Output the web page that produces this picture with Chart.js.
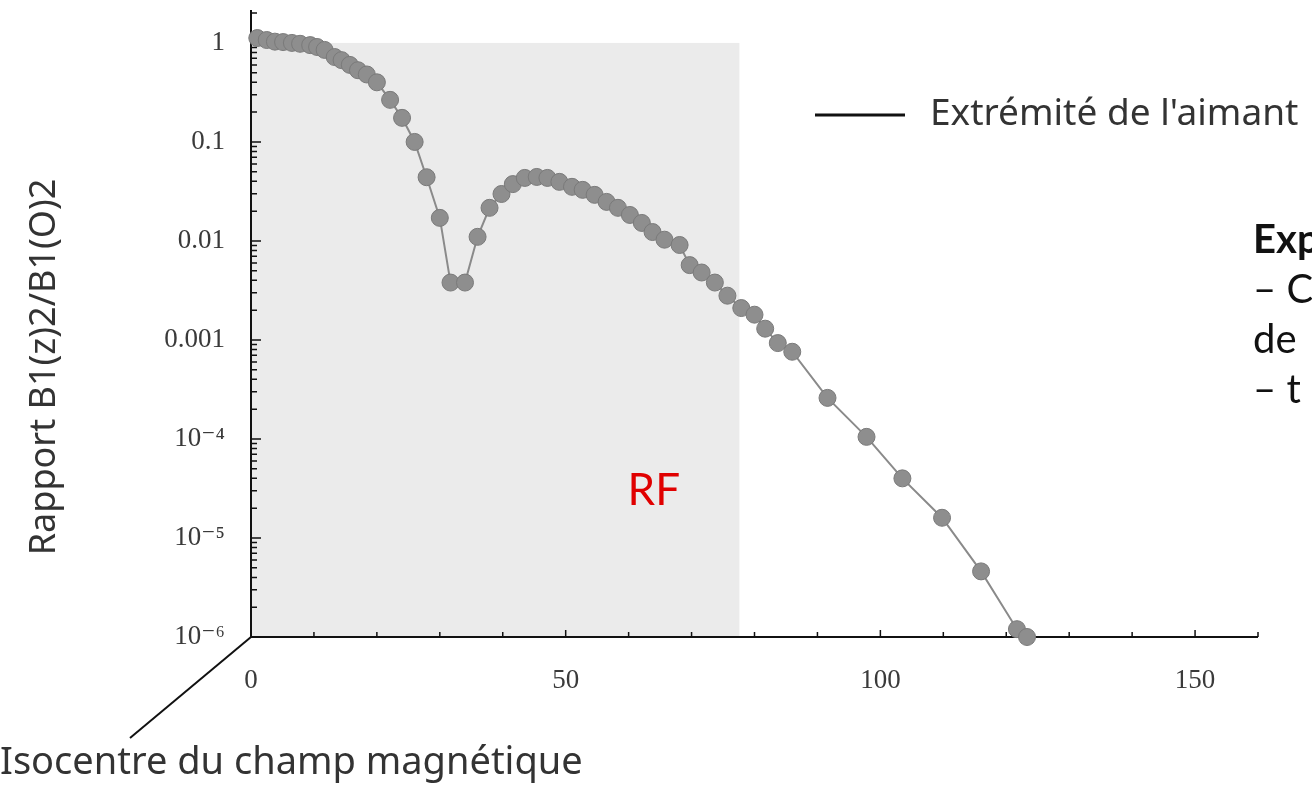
<!DOCTYPE html>
<html>
<head>
<meta charset="utf-8">
<script src="https://cdn.jsdelivr.net/npm/chart.js@4.4.0/dist/chart.umd.min.js"></script>
<style>
  html, body { margin: 0; background: #fff; }
</style>
</head>
<body>
<canvas id="fieldChart" width="1312" height="786"></canvas>
<script>
// distance z from the isocentre and ratio B1(z)^2 / B1(0)^2
const zValues = [1.0, 2.5, 3.8, 5.1, 6.5, 7.8, 9.4, 10.5, 11.7, 13.3,
  14.4, 15.7, 17.0, 18.4, 20.0, 22.1, 24.0, 26.0, 27.9, 30.0,
  31.7, 34.0, 36.0, 37.9, 39.8, 41.6, 43.5, 45.4, 47.1, 49.0,
  51.0, 52.7, 54.6, 56.5, 58.3, 60.2, 62.1, 63.8, 65.7, 68.1,
  69.7, 71.6, 73.7, 75.7, 77.9, 80.0, 81.7, 83.7, 86.0, 91.6,
  97.8, 103.5, 109.8, 116.0, 121.7, 123.3];
const ratioValues = [1.12, 1.07, 1.03, 1.02, 1.0, 0.98, 0.95, 0.91, 0.85, 0.72,
  0.67, 0.60, 0.53, 0.48, 0.40, 0.266, 0.175, 0.100, 0.044, 0.0171,
  0.0038, 0.0038, 0.0110, 0.0216, 0.0298, 0.0375, 0.0433, 0.0443, 0.0433, 0.0395,
  0.0352, 0.0328, 0.0292, 0.0248, 0.0216, 0.0183, 0.0152, 0.0123, 0.0103, 0.0091,
  0.0057, 0.0048, 0.0038, 0.0028, 0.0021, 0.0018, 0.0013, 0.00093, 0.00076, 2.6e-4,
  1.05e-4, 4.0e-5, 1.6e-5, 4.6e-6, 1.2e-6, 1.0e-6];

const xTickValues = [0, 10, 20, 30, 40, 50, 60, 70, 80, 90, 100, 110, 120, 130, 140, 150, 160];
const xLabelValues = [0, 50, 100, 150];
const yDecades = [1e-6, 1e-5, 1e-4, 1e-3, 0.01, 0.1, 1];
const yDecadeLabels = ['10⁻⁶', '10⁻⁵', '10⁻⁴', '0.001', '0.01', '0.1', '1'];
const rfZone = [0, 77.6];   // RF coil extent (shaded)

const points = zValues.map((z, i) => ({ x: z, y: ratioValues[i] }));

function decadeIndex(v) {
  return yDecades.findIndex(d => Math.abs(v / d - 1) < 1e-6);
}

const tickFont = { family: '"Liberation Serif", "DejaVu Serif", serif', size: 27 };

const decor = {
  id: 'decor',
  beforeDatasetsDraw(chart) {
    const { ctx, scales: { x, y } } = chart;
    const x0 = x.getPixelForValue(0), y0 = y.getPixelForValue(1e-6);
    ctx.save();
    // RF zone
    ctx.fillStyle = '#ebebeb';
    const rx1 = x.getPixelForValue(rfZone[0]), rx2 = x.getPixelForValue(rfZone[1]);
    const ry = y.getPixelForValue(1);
    ctx.fillRect(rx1, ry, rx2 - rx1, y0 - ry);

    // axes
    ctx.strokeStyle = '#111';
    ctx.lineWidth = 2;
    ctx.beginPath();
    ctx.moveTo(x0, chart.chartArea.top);
    ctx.lineTo(x0, y0);
    ctx.lineTo(chart.chartArea.right, y0);
    ctx.stroke();

    // inward ticks
    ctx.lineWidth = 1.5;
    ctx.beginPath();
    y.ticks.forEach(t => {
      const py = y.getPixelForValue(t.value);
      const len = decadeIndex(t.value) >= 0 ? 10 : 6;
      ctx.moveTo(x0, py);
      ctx.lineTo(x0 + len, py);
    });
    xTickValues.forEach(v => {
      const px = x.getPixelForValue(v);
      const len = xLabelValues.includes(v) ? 7 : 5;
      ctx.moveTo(px, y0);
      ctx.lineTo(px, y0 - len);
    });
    ctx.stroke();
    ctx.restore();
  },
  afterDraw(chart) {
    const { ctx, scales: { x, y } } = chart;
    ctx.save();
    ctx.fillStyle = '#333';
    ctx.textBaseline = 'middle';

    // y title
    ctx.save();
    ctx.translate(45, 367);
    ctx.rotate(-Math.PI / 2);
    ctx.textAlign = 'center';
    ctx.font = '36px "Noto Sans", sans-serif';
    ctx.fillText('Rapport B1(z)2/B1(O)2', 0, 0);
    ctx.restore();

    // isocentre pointer
    ctx.strokeStyle = '#111';
    ctx.lineWidth = 2;
    ctx.beginPath();
    ctx.moveTo(130, 738);
    ctx.lineTo(x.getPixelForValue(0), y.getPixelForValue(1e-6));
    ctx.stroke();
    ctx.textAlign = 'left';
    ctx.font = '38px "Noto Sans", sans-serif';
    ctx.fillText('Isocentre du champ magnétique', 0, 763);

    // magnet end marker
    ctx.lineWidth = 3;
    ctx.beginPath();
    ctx.moveTo(815, 115);
    ctx.lineTo(905, 115);
    ctx.stroke();
    ctx.font = '37px "Noto Sans", sans-serif';
    ctx.fillText("Extrémité de l'aimant", 930, 114);

    // side notes (cut at page edge)
    ctx.fillStyle = '#111';
    ctx.font = 'bold 40px Lato, sans-serif';
    ctx.fillText('Exp', 1253, 240);
    ctx.font = '40px Lato, sans-serif';
    ctx.fillText('– C', 1253, 290);
    ctx.fillText('de', 1253, 340);
    ctx.fillText('– t', 1253, 390);

    // RF label
    ctx.fillStyle = '#e00000';
    ctx.textAlign = 'center';
    ctx.font = '44px Lato, sans-serif';
    ctx.fillText('RF', x.getPixelForValue(64), y.getPixelForValue(3e-5));
    ctx.restore();
  }
};

new Chart(document.getElementById('fieldChart'), {
  type: 'line',
  data: {
    datasets: [{
      data: points,
      borderColor: '#8a8a8a',
      borderWidth: 2,
      pointRadius: 8.5,
      pointBackgroundColor: '#8e8e8e',
      pointBorderColor: '#7a7a7a',
      pointBorderWidth: 1,
      tension: 0,
      clip: false
    }]
  },
  options: {
    responsive: false,
    animation: false,
    devicePixelRatio: 1,
    layout: { padding: { left: 0, top: 10, right: 54, bottom: 0 } },
    plugins: { legend: { display: false }, tooltip: { enabled: false } },
    scales: {
      x: {
        type: 'linear',
        min: 0,
        max: 160,
        afterBuildTicks: s => { s.ticks = xTickValues.map(v => ({ value: v })); },
        afterFit: s => { s.height = 149; s.paddingLeft = 0; s.paddingRight = 0; },
        grid: { display: false },
        border: { display: false },
        ticks: {
          autoSkip: false,
          maxRotation: 0,
          padding: 20,
          color: '#3a3a3a',
          font: tickFont,
          callback: v => xLabelValues.includes(v) ? String(v) : ''
        }
      },
      y: {
        type: 'logarithmic',
        min: 1e-6,
        max: 2.15,
        afterBuildTicks: s => {
          const t = [];
          yDecades.forEach(d => {
            for (let m = 1; m <= 9; m++) {
              if (m * d <= s.max) t.push({ value: m * d });
            }
          });
          s.ticks = t;
        },
        afterFit: s => { s.width = 251; s.paddingTop = 0; s.paddingBottom = 0; },
        grid: { display: false },
        border: { display: false },
        ticks: {
          autoSkip: false,
          padding: 18,
          color: '#3a3a3a',
          font: tickFont,
          callback: v => {
            const i = decadeIndex(v);
            return i >= 0 ? yDecadeLabels[i] : '';
          }
        }
      }
    }
  },
  plugins: [decor]
});
</script>
</body>
</html>
